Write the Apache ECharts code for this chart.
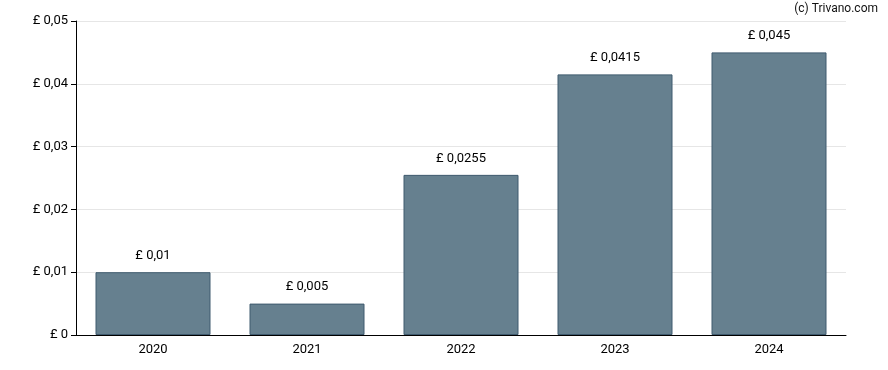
<!DOCTYPE html>
<html><head><meta charset="utf-8">
<script src="https://cdn.jsdelivr.net/npm/echarts@6/dist/echarts.min.js"></script>
<style>html,body{margin:0;padding:0;background:#fff}#c{width:888px;height:370px}</style>
</head><body><div id="c"></div>
<script>
const categories = ['2020','2021','2022','2023','2024'];
const values = [0.01, 0.005, 0.0255, 0.0415, 0.045];
const yTicks = [0, 0.01, 0.02, 0.03, 0.04, 0.05];

function fmt(v){ return '£ ' + String(v).replace('.', ','); }

const chart = echarts.init(document.getElementById('c'), null, {renderer:'canvas'});
chart.setOption({
  animation:false,
  textStyle:{fontFamily:'Roboto, sans-serif'},
  graphic:[{type:'text', right:10, top:3, style:{text:'(c) Trivano.com', font:'12px Roboto, sans-serif', fill:'#111'}}],
  grid:{left:76, right:42, top:21, bottom:35},
  xAxis:{type:'category', data:categories,
    axisLine:{lineStyle:{color:'#000', width:1}},
    axisTick:{alignWithLabel:true, length:5, lineStyle:{color:'#000'}},
    axisLabel:{color:'#000', fontSize:13, margin:8}},
  yAxis:{type:'value', min:0, max:0.05, interval:0.01,
    axisLine:{show:true, lineStyle:{color:'#000'}},
    axisTick:{show:true, length:5, lineStyle:{color:'#000'}},
    splitLine:{lineStyle:{color:'#e6e6e6'}},
    axisLabel:{color:'#000', fontSize:13, margin:8, formatter:v=>fmt(+v.toFixed(4))}},
  series:[{type:'bar', data:values, barWidth:115,
    itemStyle:{color:'#66808f', borderColor:'#3f5a6e', borderWidth:1},
    label:{show:true, position:'top', distance:10, color:'#000', fontSize:13, formatter:p=>fmt(p.value)}}]
});
</script></body></html>
